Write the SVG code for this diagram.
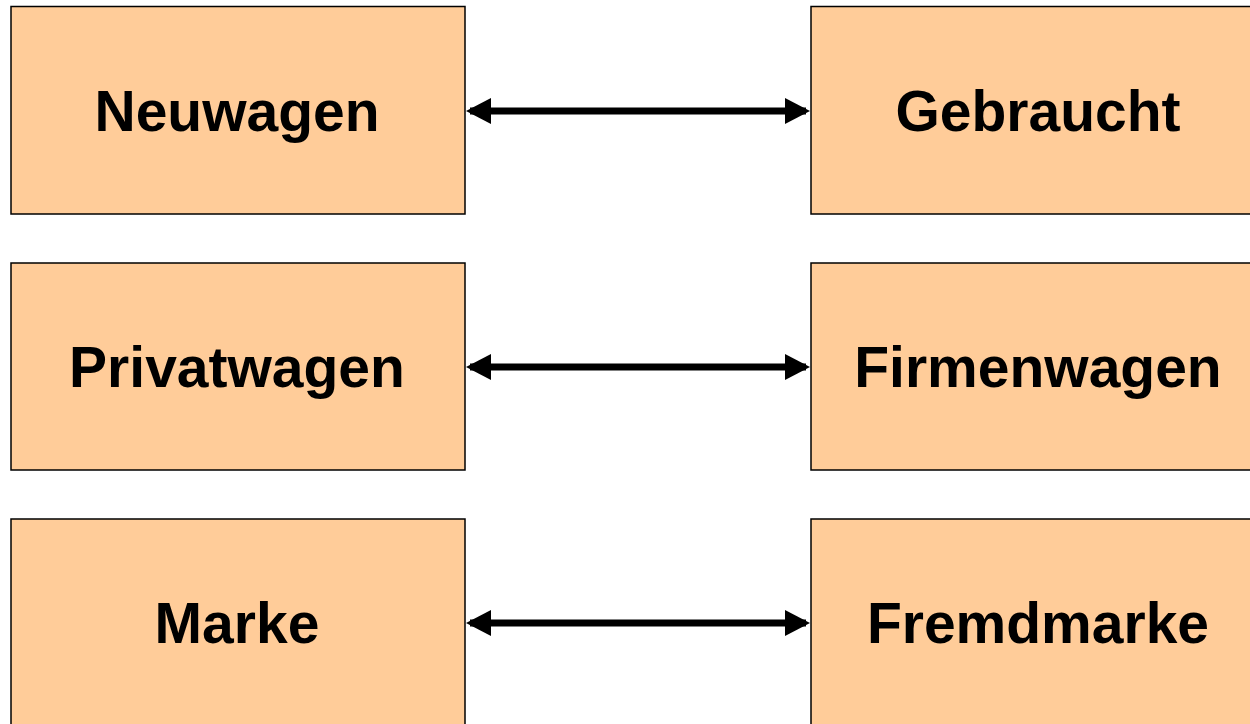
<svg xmlns="http://www.w3.org/2000/svg" width="1250" height="724" viewBox="0 0 1250 724">
<style>
.box{fill:#FFCC99;stroke:#000;stroke-width:1.5}
.lbl{font-family:"Liberation Sans",Arial,sans-serif;font-weight:bold;font-size:57px;fill:#000;text-anchor:middle}
.arr{stroke:#000;stroke-width:7;fill:none;marker-start:url(#ah);marker-end:url(#ah)}
</style>
<defs>
<marker id="ah" markerUnits="userSpaceOnUse" markerWidth="26" markerHeight="26" refX="21" refY="13" orient="auto-start-reverse" viewBox="0 0 26 26">
<path d="M0,0 L25,13 L0,26 z" fill="#000"/>
</marker>
</defs>
<rect width="1250" height="724" fill="#fff"/>
<g id="n-neuwagen"><rect class="box" x="11" y="6.5" width="454" height="207.5"/><text class="lbl" x="237" y="131">Neuwagen</text></g>
<g id="n-gebraucht"><rect class="box" x="811" y="6.5" width="454" height="207.5"/><text class="lbl" x="1038" y="131">Gebraucht</text></g>
<g id="n-privatwagen"><rect class="box" x="11" y="263" width="454" height="207"/><text class="lbl" x="237" y="387">Privatwagen</text></g>
<g id="n-firmenwagen"><rect class="box" x="811" y="263" width="454" height="207"/><text class="lbl" x="1038" y="387">Firmenwagen</text></g>
<g id="n-marke"><rect class="box" x="11" y="519" width="454" height="230"/><text class="lbl" x="237" y="643">Marke</text></g>
<g id="n-fremdmarke"><rect class="box" x="811" y="519" width="454" height="230"/><text class="lbl" x="1038" y="643">Fremdmarke</text></g>
<g id="connectors">
<line class="arr" x1="470" y1="111" x2="806" y2="111"/>
<line class="arr" x1="470" y1="367" x2="806" y2="367"/>
<line class="arr" x1="470" y1="623" x2="806" y2="623"/>
</g>
</svg>
